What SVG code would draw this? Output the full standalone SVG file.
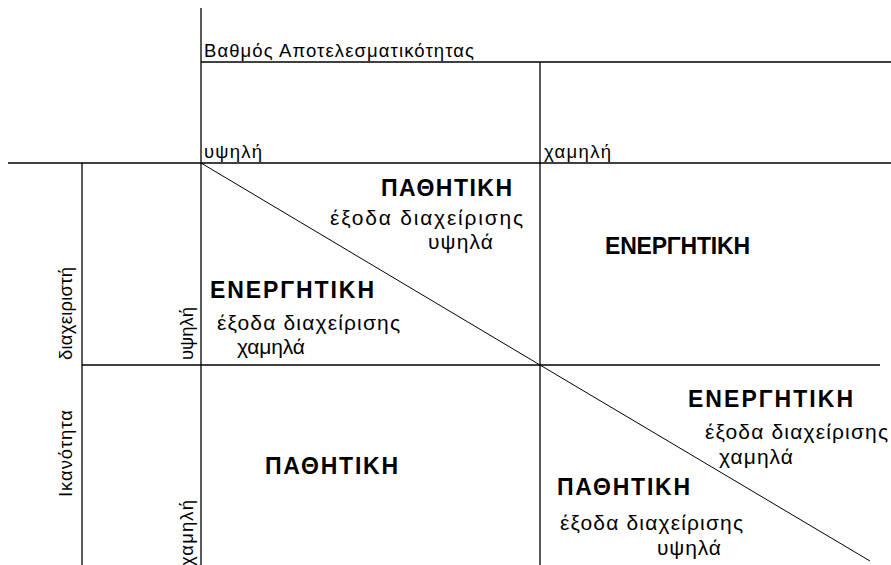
<svg xmlns="http://www.w3.org/2000/svg" width="891" height="565" viewBox="0 0 891 565">
<style>
.ln{stroke:#000;stroke-width:1.3;fill:none}
.dg{stroke:#000;stroke-width:1;fill:none}
text{font-family:"Liberation Sans",Arial,sans-serif;fill:#000}
.s{font-size:18.5px}
.b{font-size:23px;font-weight:bold}
.n{font-size:21px}
</style>
<rect width="891" height="565" fill="#fff"/>
<g id="grid">
<line class="ln" x1="201" y1="8" x2="201" y2="565"/>
<line class="ln" x1="201" y1="62" x2="891" y2="62"/>
<line class="ln" x1="540" y1="62" x2="540" y2="565"/>
<line class="ln" x1="8" y1="163" x2="891" y2="163"/>
<line class="ln" x1="82" y1="163" x2="82" y2="565"/>
<line class="ln" x1="82" y1="365" x2="880" y2="365"/>
</g>
<g id="connectors">
<line class="dg" x1="201" y1="163" x2="540" y2="365"/>
<line class="dg" x1="540" y1="365" x2="870" y2="561"/>
</g>
<g id="headers">
<text class="s" x="204" y="57" textLength="270">Βαθμός Αποτελεσματικότητας</text>
<text class="s" x="204" y="158" textLength="58">υψηλή</text>
<text class="s" x="544" y="158" textLength="67">χαμηλή</text>
<text class="s" transform="translate(72,360) rotate(-90)" textLength="93">διαχειριστή</text>
<text class="s" transform="translate(72,497) rotate(-90)" textLength="87">Ικανότητα</text>
<text class="s" transform="translate(193,360) rotate(-90)" textLength="53">υψηλή</text>
<text class="s" transform="translate(193,566) rotate(-90)" textLength="66">χαμηλή</text>
</g>
<g id="cell-high-high">
<text class="b" x="381" y="196" textLength="131">ΠΑΘΗΤΙΚΗ</text>
<text class="n" x="330" y="225" textLength="193">έξοδα διαχείρισης</text>
<text class="n" x="428" y="249" textLength="65">υψηλά</text>
<text class="b" x="210" y="298" textLength="164">ΕΝΕΡΓΗΤΙΚΗ</text>
<text class="n" x="217" y="330" textLength="183">έξοδα διαχείρισης</text>
<text class="n" x="237" y="354" textLength="68">χαμηλά</text>
</g>
<g id="cell-low-high">
<text class="b" x="605" y="254" textLength="145">ΕΝΕΡΓΗΤΙΚΗ</text>
</g>
<g id="cell-high-low">
<text class="b" x="265" y="474" textLength="133">ΠΑΘΗΤΙΚΗ</text>
</g>
<g id="cell-low-low">
<text class="b" x="688" y="407" textLength="165">ΕΝΕΡΓΗΤΙΚΗ</text>
<text class="n" x="705" y="439" textLength="183">έξοδα διαχείρισης</text>
<text class="n" x="719" y="464" textLength="74">χαμηλά</text>
<text class="b" x="557" y="495" textLength="133">ΠΑΘΗΤΙΚΗ</text>
<text class="n" x="560" y="530" textLength="183">έξοδα διαχείρισης</text>
<text class="n" x="657" y="555" textLength="64">υψηλά</text>
</g>
</svg>
